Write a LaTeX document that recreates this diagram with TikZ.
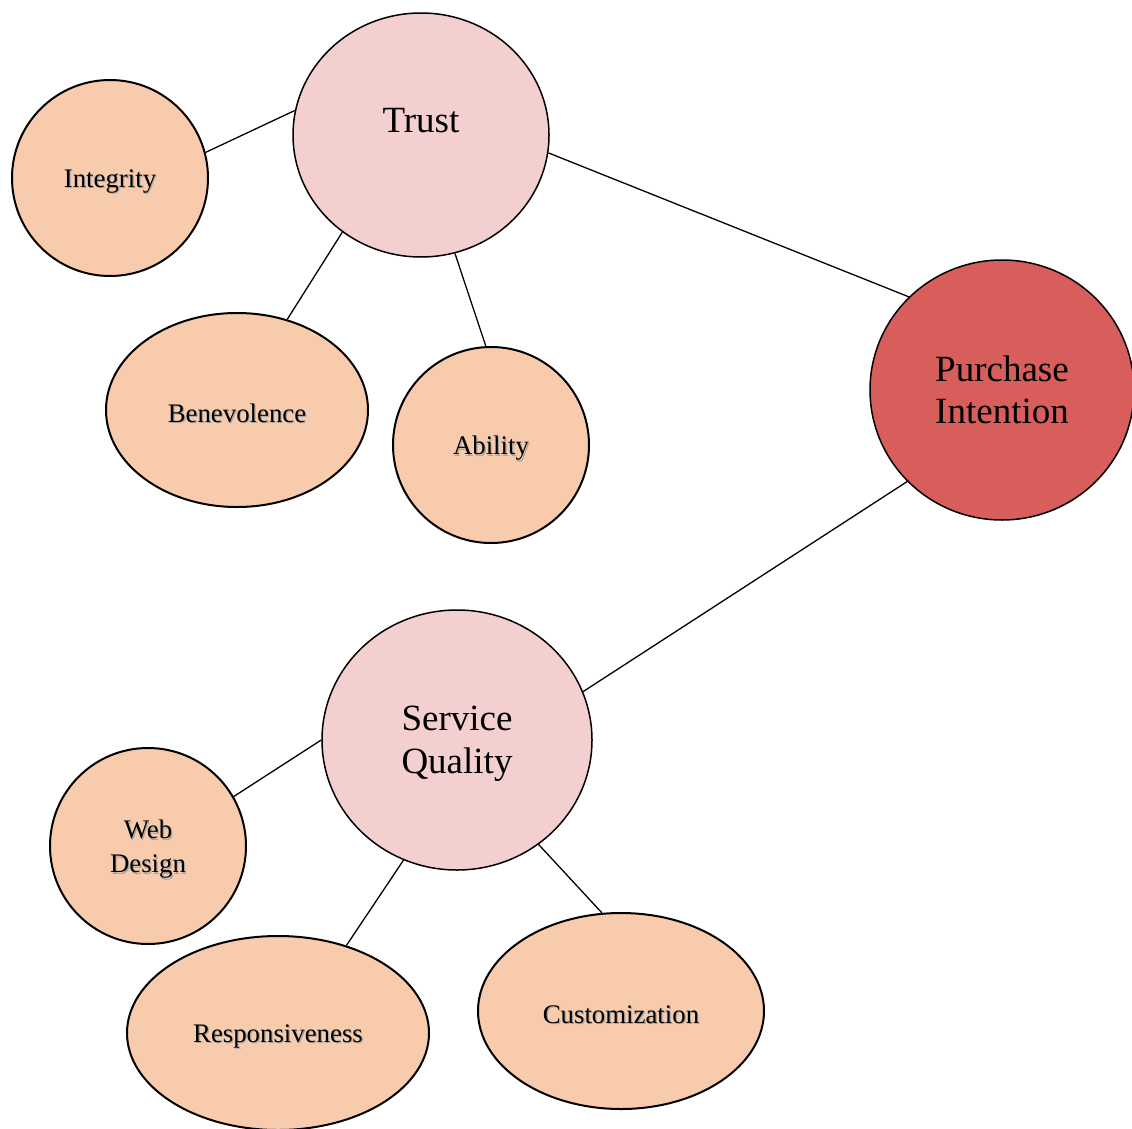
\documentclass[tikz,border=0pt]{standalone}
\usepackage{fontspec}
\setmainfont{Liberation Serif}
\usetikzlibrary{shapes.geometric}
\definecolor{peach}{HTML}{F8CBAD}
\definecolor{rosefill}{HTML}{F3CFD0}
\definecolor{redfill}{HTML}{D85E5C}
\newcommand\shd[1]{\raisebox{-4pt}[\height][\depth]{\makebox[0pt][l]{\raisebox{-1.2pt}{\kern1.2pt\textcolor{black!35}{#1}}}#1}}
\newcommand\lo[1]{\raisebox{-3.5pt}[\height][\depth]{#1}}
\begin{document}
\begin{tikzpicture}[x=1pt,y=-1pt,
  smallnode/.style={ellipse,draw=black,line width=2pt,fill=peach,inner sep=0pt,
    font=\fontsize{26.8}{34}\selectfont,align=center},
  bignode/.style={ellipse,draw=black,line width=1.5pt,inner sep=0pt,
    font=\fontsize{37}{42.5}\selectfont,align=center},
  link/.style={draw=black,line width=1.3pt}]
\useasboundingbox (0,0) rectangle (1132,1129);
% main constructs
\node[bignode,fill=rosefill,minimum width=256pt,minimum height=244pt,
  label={[font=\fontsize{37}{42.5}\selectfont,yshift=14pt]center:Trust}] (trust) at (421,135) {};
\node[bignode,fill=redfill,minimum width=264pt,minimum height=260pt] (pi) at (1002,390) {Purchase\\Intention};
\node[bignode,fill=rosefill,minimum width=270pt,minimum height=260pt] (sq) at (457,740) {\lo{Service}\\\lo{Quality}};
% dimensions
\node[smallnode,minimum width=196pt,minimum height=196pt] (integ) at (110,178) {\shd{Integrity}};
\node[smallnode,minimum width=262pt,minimum height=194pt] (bene) at (237,410) {\shd{Benevolence}};
\node[smallnode,minimum width=196pt,minimum height=196pt] (abil) at (491,445) {\shd{Ability}};
\node[smallnode,minimum width=196pt,minimum height=196pt] (web) at (148,846) {\shd{Web}\\\shd{Design}};
\node[smallnode,minimum width=302pt,minimum height=194pt] (resp) at (278,1033) {\shd{Responsiveness}};
\node[smallnode,minimum width=286pt,minimum height=196pt] (cust) at (621,1011) {\shd{Customization}};
% connectors
\draw[link] (integ.15) -- (trust.169);
\draw[link] (trust.231.5) -- (bene.61.7);
\draw[link] (trust.286.4) -- (abil.93.5);
\draw[link] (trust.352.4) -- (pi.135.3);
\draw[link] (pi.224.4) -- (sq.21.4);
\draw[link] (sq.180) -- (web.30.2);
\draw[link] (sq.246.1) -- (resp.52);
\draw[link] (sq.308.3) -- (cust.101.4);
\end{tikzpicture}
\end{document}
